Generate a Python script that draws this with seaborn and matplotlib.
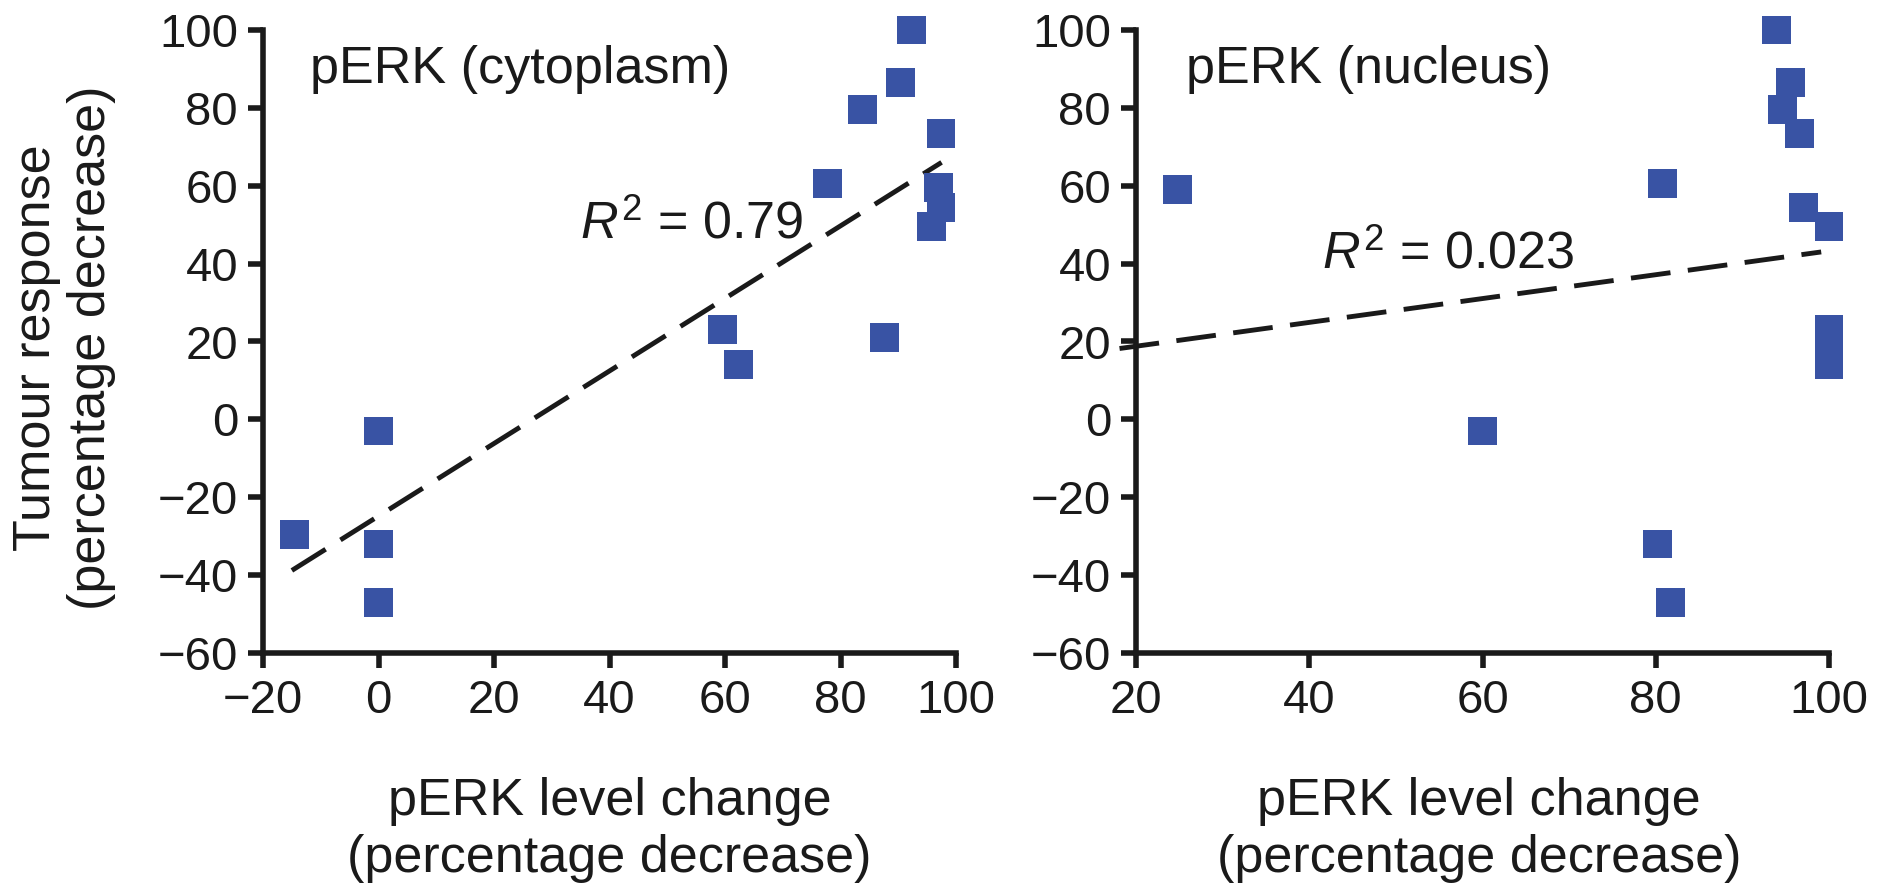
import numpy as np
import pandas as pd
import matplotlib
matplotlib.use("Agg")
import matplotlib.pyplot as plt
import seaborn as sns

# ---- data ----
cyto_x = [-14.5, 0, 0, 0, 59.5, 62.3, 77.8, 83.8, 87.6, 90.4, 92.3, 97.4, 97.0, 97.4, 95.7]
cyto_y = [-29.5, -3, -32, -47, 23, 14, 60.5, 79.5, 21, 86.5, 100, 73.5, 59.5, 54.5, 49.5]

nuc_x = [24.8, 60, 80.8, 80.2, 81.7, 93.9, 95.6, 94.6, 96.6, 97.1, 100, 100, 100, 100]
nuc_y = [59, -3, 60.5, -32, -47, 100, 86.5, 79.5, 73.5, 54.5, 49.5, 23, 21, 14]

# fitted trend lines (end points)
cyto_fit_x = [-15, 97.5]
cyto_fit_y = [-38.8, 66]
nuc_fit_x = [18.1, 99.1]
nuc_fit_y = [18.2, 43]

cyto_xticks = [-20, 0, 20, 40, 60, 80, 100]
nuc_xticks = [20, 40, 60, 80, 100]
yticks = [-60, -40, -20, 0, 20, 40, 60, 80, 100]

panel_titles = ["pERK (cytoplasm)", "pERK (nucleus)"]
r2_labels = [r"$\mathit{R}^2$ = 0.79", r"$\mathit{R}^2$ = 0.023"]
xlabel = "pERK level change\n(percentage decrease)"
ylabel = "Tumour response\n(percentage decrease)"

# ---- style ----
sns.set_theme(style="ticks")
plt.rcParams["font.family"] = ["Liberation Sans", "DejaVu Sans"]
plt.rcParams["mathtext.fontset"] = "custom"
plt.rcParams["mathtext.rm"] = "Liberation Sans"
plt.rcParams["mathtext.it"] = "Liberation Sans:italic"

TICK_FS = 34
LAB_FS = 37.5
marker_color = "#3953A4"
ink = "#1a1a1a"

fig = plt.figure(figsize=(18.85, 8.88), dpi=100)
ax1 = fig.add_axes([263 / 1885, 1 - 653 / 888, 693 / 1885, 623 / 888])
ax2 = fig.add_axes([1136 / 1885, 1 - 653 / 888, 693 / 1885, 623 / 888])

panels = [
    (ax1, cyto_x, cyto_y, cyto_fit_x, cyto_fit_y, cyto_xticks, (-20, 100), (34.9, 46.5), 0.068, 0.5),
    (ax2, nuc_x, nuc_y, nuc_fit_x, nuc_fit_y, nuc_xticks, (20, 100), (41.5, 38.7), 0.072, 0.495),
]

for i, (ax, xs, ys, fx, fy, xt, xlim, r2pos, tx, xlab_x) in enumerate(panels):
    df = pd.DataFrame({"x": xs, "y": ys})
    fit = pd.DataFrame({"x": fx, "y": fy})
    sns.lineplot(data=fit, x="x", y="y", ax=ax, color=ink, lw=3.5,
                 linestyle=(0, (8.2, 3.6)), clip_on=False, zorder=2)
    sns.scatterplot(data=df, x="x", y="y", ax=ax, marker="s", s=430,
                    color=marker_color, edgecolor="none", linewidth=0,
                    clip_on=False, zorder=3)
    ax.set_xlim(*xlim)
    ax.set_ylim(-60, 100)
    ax.set_xticks(xt)
    ax.set_yticks(yticks)
    ax.tick_params(axis="both", labelsize=TICK_FS, length=11, width=4, color=ink,
                   direction="out", labelcolor=ink)
    ax.tick_params(axis="y", pad=7)
    ax.tick_params(axis="x", pad=8)
    for sp in ["top", "right"]:
        ax.spines[sp].set_visible(False)
    for sp in ["left", "bottom"]:
        ax.spines[sp].set_linewidth(4)
        ax.spines[sp].set_color(ink)
    ax.set_xlabel(xlabel, fontsize=LAB_FS, linespacing=1.2, color=ink)
    ax.xaxis.label.set_va("center")
    ax.xaxis.set_label_coords(xlab_x, -0.284)
    if i == 0:
        ax.set_ylabel(ylabel, fontsize=LAB_FS, linespacing=1.15, color=ink)
        ax.yaxis.label.set_va("center")
        ax.yaxis.set_label_coords(-0.287, 0.49)
    else:
        ax.set_ylabel("")
    ax.text(tx, 0.915, panel_titles[i], transform=ax.transAxes, fontsize=LAB_FS,
            ha="left", va="baseline", color=ink)
    ax.text(r2pos[0], r2pos[1], r2_labels[i], fontsize=LAB_FS, ha="left",
            va="baseline", color=ink)
    ax.set_facecolor("white")

fig.patch.set_facecolor("white")
fig.savefig("out.png", dpi=100, facecolor="white")
